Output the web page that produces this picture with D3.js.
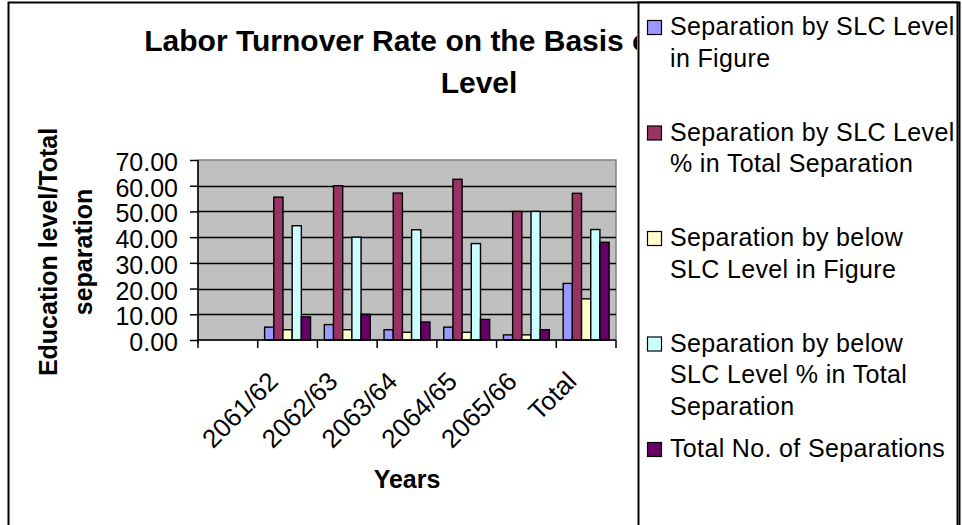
<!DOCTYPE html>
<html>
<head>
<meta charset="utf-8">
<script src="https://cdn.jsdelivr.net/npm/d3@7"></script>
<style>
  html, body { margin: 0; padding: 0; background: #fff; }
  svg { display: block; font-family: "Liberation Sans", Arial, sans-serif; }
</style>
</head>
<body>
<svg id="chart" width="962" height="525"></svg>
<script>
// ---- data ----
const categories = ["", "2061/62", "2062/63", "2063/64", "2064/65", "2065/66", "Total"];
const seriesNames = [
  "Separation by SLC Level in Figure",
  "Separation by SLC Level % in Total Separation",
  "Separation by below SLC Level in Figure",
  "Separation by below SLC Level % in Total Separation",
  "Total No. of Separations"
];
const legendLines = [
  ["Separation by SLC Level", "in Figure"],
  ["Separation by SLC Level", "% in Total Separation"],
  ["Separation by below", "SLC Level in Figure"],
  ["Separation by below", "SLC Level % in Total", "Separation"],
  ["Total No. of Separations"]
];
const slcFigure      = [null, 5, 6, 4, 5, 2, 22];
const slcPercent     = [null, 55.56, 60.00, 57.14, 62.50, 50.00, 57.04];
const belowFigure    = [null, 4, 4, 3, 3, 2, 16];
const belowPercent   = [null, 44.44, 40.00, 42.86, 37.50, 50.00, 42.96];
const totalSeparations = [null, 9, 10, 7, 8, 4, 38];
const seriesValues = [slcFigure, slcPercent, belowFigure, belowPercent, totalSeparations];
const colors = ["#9999FF", "#993366", "#FFFFCC", "#CCFFFF", "#660066"];
const yTicks = [0, 10, 20, 30, 40, 50, 60, 70];
const titleLines = ["Labor Turnover Rate on the Basis of Education", "Level"];
const xTitle = "Years";
const yTitleLines = ["Education level/Total", "separation"];

// ---- layout ----
const svg = d3.select("#chart");
const plot = { left: 198, right: 616, top: 160, bottom: 340 };

const x = d3.scaleBand().domain(categories.map((c, i) => i)).range([plot.left, plot.right]).paddingInner(0).paddingOuter(0);
const xs = d3.scaleBand().domain(d3.range(seriesNames.length)).range([0, x.bandwidth()]).paddingInner(0).paddingOuter(0.75);
const y = d3.scaleLinear().domain([0, 70]).range([plot.bottom, plot.top]);

svg.append("defs").append("clipPath").attr("id", "titleClip")
  .append("rect").attr("x", 0).attr("y", 0).attr("width", 637).attr("height", 120);

// chart area border
svg.append("rect").attr("x", 8.5).attr("y", 2.5).attr("width", 951).attr("height", 560)
  .attr("fill", "#fff").attr("stroke", "#000").attr("stroke-width", 2);

// title (partly hidden behind the legend, as in the original)
const title = svg.append("text").attr("text-anchor", "middle").attr("font-weight", "bold")
  .attr("font-size", 30).attr("fill", "#000").attr("clip-path", "url(#titleClip)");
titleLines.forEach((t, i) => {
  title.append("tspan").attr("x", 479).attr("y", 51 + i * 42).text(t);
});

// plot background
svg.append("rect").attr("x", plot.left).attr("y", plot.top)
  .attr("width", plot.right - plot.left).attr("height", plot.bottom - plot.top)
  .attr("fill", "#C0C0C0").attr("stroke", "#808080").attr("stroke-width", 1.5);

// gridlines
svg.append("g").selectAll("line").data(yTicks.filter(v => v > 0 && v < 70)).join("line")
  .attr("x1", plot.left).attr("x2", plot.right)
  .attr("y1", d => Math.round(y(d)) + 0.5).attr("y2", d => Math.round(y(d)) + 0.5)
  .attr("stroke", "#000").attr("stroke-width", 1.4);

// bars
const groups = svg.append("g").selectAll("g").data(seriesValues).join("g")
  .attr("fill", (d, i) => colors[i]);
groups.each(function(vals, si) {
  d3.select(this).selectAll("rect")
    .data(vals.map((v, ci) => ({ v, ci })).filter(d => d.v != null))
    .join("rect")
    .attr("x", d => x(d.ci) + xs(si))
    .attr("width", xs.bandwidth())
    .attr("y", d => y(d.v))
    .attr("height", d => y(0) - y(d.v))
    .attr("stroke", "#000").attr("stroke-width", 1.4);
});

// y axis
const yAxis = d3.axisLeft(y).tickValues(yTicks).tickFormat(d3.format(".2f")).tickSize(8).tickPadding(12);
const gy = svg.append("g").attr("transform", `translate(${plot.left},0)`).call(yAxis);
gy.select(".domain").attr("stroke", "#000").attr("stroke-width", 1.5).attr("d", `M0,${plot.top}V${plot.bottom + 3}`);
gy.selectAll(".tick line").attr("stroke", "#000").attr("stroke-width", 1.5);
gy.selectAll(".tick text").attr("font-size", 25).attr("fill", "#000")
  .attr("font-family", "'Liberation Sans', Arial, sans-serif").attr("dy", "0.42em");

// x axis
const gx = svg.append("g").attr("transform", `translate(0,${plot.bottom})`);
gx.append("line").attr("x1", plot.left).attr("x2", plot.right).attr("y1", 0).attr("y2", 0)
  .attr("stroke", "#000").attr("stroke-width", 1.5);
const boundaries = categories.map((c, i) => x(i)).concat([plot.right]);
gx.selectAll("line.tk").data(boundaries).join("line").attr("class", "tk")
  .attr("x1", d => d).attr("x2", d => d).attr("y1", 0).attr("y2", 8)
  .attr("stroke", "#000").attr("stroke-width", 1.5);
gx.selectAll("text").data(categories.map((c, i) => ({ c, i })).filter(d => d.c !== "")).join("text")
  .attr("transform", d => `translate(${x(d.i) + x.bandwidth() / 2 - 8},43) rotate(-45)`)
  .attr("text-anchor", "end").attr("font-size", 26).attr("fill", "#000")
  .text(d => d.c);

// axis titles
svg.append("text").attr("x", (plot.left + plot.right) / 2).attr("y", 488)
  .attr("text-anchor", "middle").attr("font-weight", "bold").attr("font-size", 25).text(xTitle);
const yt = svg.append("text").attr("transform", "translate(0,252) rotate(-90)")
  .attr("text-anchor", "middle").attr("font-weight", "bold").attr("font-size", 25);
yTitleLines.forEach((t, i) => {
  yt.append("tspan").attr("x", 0).attr("y", 57 + i * 35).text(t);
});

// legend
const lg = svg.append("g");
lg.append("rect").attr("x", 638.5).attr("y", 2.5).attr("width", 319).attr("height", 560)
  .attr("fill", "#fff").attr("stroke", "#000").attr("stroke-width", 2);
legendLines.forEach((lines, i) => {
  const base = 35 + i * 105.5;
  lg.append("rect").attr("x", 647.5).attr("y", base - 14.5).attr("width", 14).attr("height", 14)
    .attr("fill", colors[i]).attr("stroke", "#000").attr("stroke-width", 1.2);
  const t = lg.append("text").attr("font-size", 25).attr("letter-spacing", 0.35).attr("fill", "#000");
  lines.forEach((ln, j) => {
    t.append("tspan").attr("x", 670).attr("y", base + j * 31.5).text(ln);
  });
});
</script>
</body>
</html>
